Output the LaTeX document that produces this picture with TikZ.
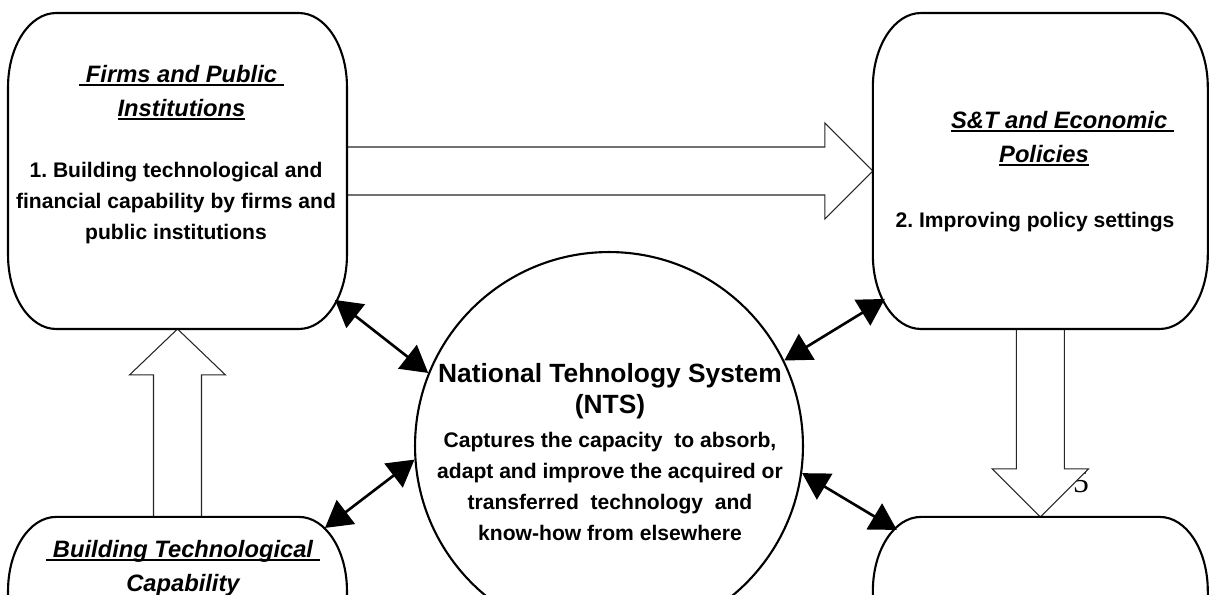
\documentclass[tikz,border=0pt]{standalone}
\usepackage{fontspec}
\setmainfont{Liberation Sans}
\newfontfamily\pnfont{Liberation Serif}
\usepackage{tikz}
\usetikzlibrary{positioning,calc,arrows.meta}
\frenchspacing

\newcommand{\uln}[1]{\setbox0=\hbox{#1}\rlap{\rule[-2pt]{\wd0}{1pt}}\box0}
\newcommand{\capline}[1]{%
  \draw[boxline] ($(#1.north west)+(48,0)$) -- ($(#1.north east)+(-48,0)$)
    .. controls ($(#1.north east)+(-21.5,0)$) and ($(#1.north east)+(0,33)$) .. ($(#1.north east)+(0,74)$)
    -- ($(#1.south east)+(0,-74)$)
    .. controls ($(#1.south east)+(0,-33)$) and ($(#1.south east)+(-21.5,0)$) .. ($(#1.south east)+(-48,0)$)
    -- ($(#1.south west)+(48,0)$)
    .. controls ($(#1.south west)+(21.5,0)$) and ($(#1.south west)+(0,-33)$) .. ($(#1.south west)+(0,-74)$)
    -- ($(#1.north west)+(0,74)$)
    .. controls ($(#1.north west)+(0,33)$) and ($(#1.north west)+(21.5,0)$) .. ($(#1.north west)+(48,0)$) -- cycle;}

\tikzset{
  capbox/.style={rectangle, minimum height=6.32cm, inner sep=0pt, outer sep=0pt},
  boxline/.style={line width=1.2pt},
  hub/.style={circle, draw, line width=1.2pt, minimum size=7.76cm, inner sep=0pt},
  heading/.style={font=\fontsize{13.5}{19.3}\selectfont\bfseries\itshape, align=center, inner sep=0pt},
  detail/.style={font=\fontsize{12}{17.6}\selectfont\bfseries, align=center, inner sep=0pt},
  hollow/.style={draw=black!85, line width=0.6pt, fill=white},
  link/.style={line width=1.5pt, {Triangle[length=15pt,width=17pt]}-{Triangle[length=15pt,width=17pt]}},
}

\begin{document}
\begin{tikzpicture}[x=0.02cm, y=-0.02cm]
    \useasboundingbox (0,0) rectangle (1211,595);
    \clip (0,0) rectangle (1211,595);

    \node[capbox, minimum width=6.78cm] (firms) at (177.5,171) {};
    \node[capbox, minimum width=6.7cm, right=10.52cm of firms] (policy) {};
    \node[capbox, minimum width=6.78cm, below=3.76cm of firms] (capab) {};
    \node[capbox, minimum width=6.7cm, below=3.76cm of policy] (outcome) {};
    \node[hub] (nts) at (609,446) {};

    \node[font=\pnfont\fontsize{18}{20}\selectfont, inner sep=0pt] (pagenum) at (1081,482) {5};

    \draw[hollow] ($(firms.east)+(0,-24)$) -- ($(policy.west)+(-48,-24)$) -- ++(0,-24) -- (policy.west) -- ++(-48,48) -- ++(0,-24) -- ($(firms.east)+(0,24)$) -- cycle;
    \draw[hollow] ($(capab.north)+(-24,0)$) -- ($(firms.south)+(-24,46)$) -- ++(-24,0) -- (firms.south) -- ++(48,46) -- ++(-24,0) -- ($(capab.north)+(24,0)$) -- cycle;
    \draw[hollow] ($(policy.south)+(-24,0)$) -- ($(outcome.north)+(-24,-48)$) -- ++(-24,0) -- (outcome.north) -- ++(48,-48) -- ++(-24,0) -- ($(policy.south)+(24,0)$) -- cycle;

    \capline{firms}
    \capline{policy}
    \capline{capab}
    \capline{outcome}

    \draw[link] ([shift={(-12,-29)}]firms.south east) -- (nts.158);
    \draw[link] ([shift={(12,-30)}]policy.south west) -- (nts.26);
    \draw[link] ([shift={(-22,11)}]capab.north east) -- (nts.184);
    \draw[link] ([shift={(24,13)}]outcome.north west) -- (nts.352);

    \node[heading, anchor=base] (firmstitle) at (181.5,116) {\uln{\ Firms and Public\ }\\\uln{Institutions}};
    \node[detail, anchor=base] (firmstext) at (176,239) {1. Building technological and\\financial capability by firms and\\public institutions};
    \node[heading, anchor=base] (policytitle) at (1044,162) {\hspace*{0.74cm}\uln{S\&T and Economic\ }\\\uln{Policies}};
    \node[detail, anchor=base] (policytext) at (1035,227) {2. Improving policy settings};
    \node[heading, anchor=base] (capabtitle) at (183,591) {\uln{\ Building Technological\ }\\Capability};
    \node[font=\fontsize{15}{17.6}\selectfont\bfseries, align=center, inner sep=0pt, anchor=base] (ntstitle) at (610,413) {National Tehnology System\\(NTS)};
    \node[detail, anchor=base] (ntstext) at (610,540) {Captures the capacity\ \ to absorb,\\adapt and improve the acquired or\\transferred\ \ technology\ \ and\\know-how from elsewhere};
\end{tikzpicture}
\end{document}
